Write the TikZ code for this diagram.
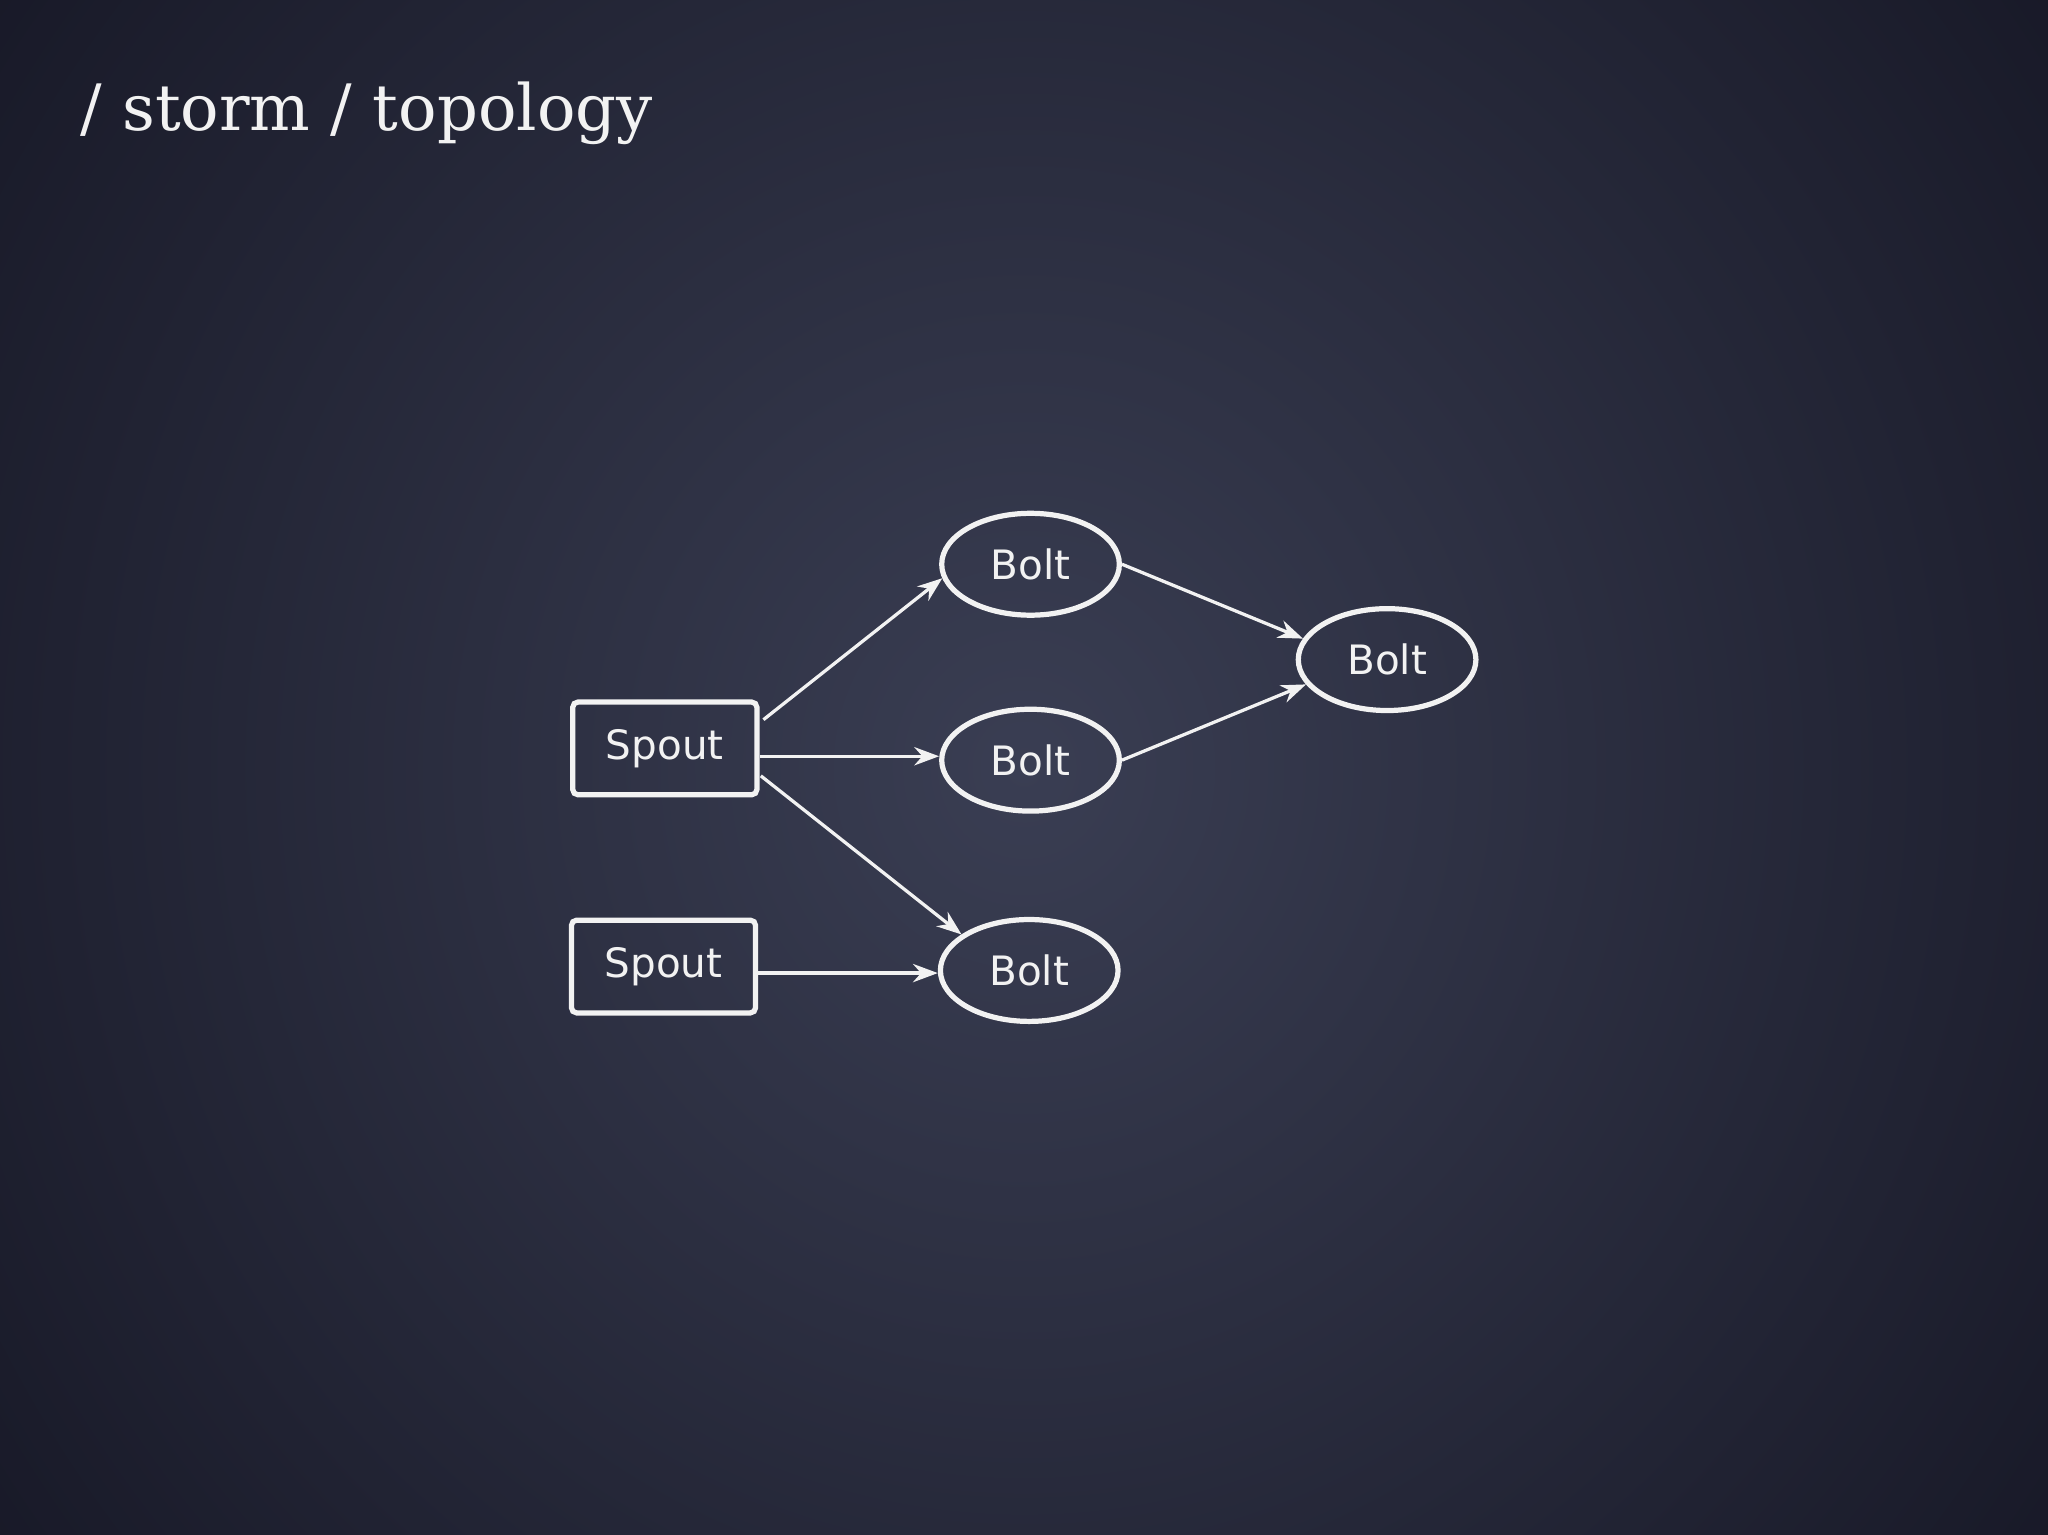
\documentclass[tikz,border=0pt]{standalone}
\usepackage{fontspec}
\setmainfont{DejaVu Sans}
\newfontfamily\titlefont{DejaVu Serif}
\usetikzlibrary{shapes.geometric,arrows.meta}
\definecolor{bgin}{HTML}{3A3E53}
\definecolor{bgout}{HTML}{161725}
\definecolor{fg}{HTML}{F2F2F2}
\begin{document}
\begin{tikzpicture}[x=1pt,y=-1pt,
  spoutbox/.style={draw=fg,line width=4,rounded corners=4,minimum width=141,minimum height=71,text=fg,font=\fontsize{31}{36}\selectfont},
  boltnode/.style={ellipse,draw=fg,line width=4,minimum width=136,minimum height=78,inner sep=0,text=fg,font=\fontsize{31}{36}\selectfont},
  flow/.style={draw=fg,line width=2.5,-{Stealth[length=19,width=14]}}]
\useasboundingbox (0,0) rectangle (1568,1175);
\shade[inner color=bgin,outer color=bgout] (-250,-500) rectangle (1818,1675);
\node[anchor=base west,text=fg,font=\titlefont\fontsize{49}{54}\selectfont] (title) at (58,100) {/ storm / topology};
\node[spoutbox] (s1) at (509,573) {Spout};
\node[spoutbox] (s2) at (508,740) {Spout};
\node[boltnode] (b1) at (789,432) {Bolt};
\node[boltnode] (b2) at (789,582) {Bolt};
\node[boltnode] (b3) at (788,743) {Bolt};
\node[boltnode] (b4) at (1062,505) {Bolt};
\draw[flow] ([yshift=22,xshift=3]s1.east) -- (b1.189);
\draw[flow] ([yshift=-6]s1.east) -- ([yshift=3]b2.west);
\draw[flow] ([yshift=-21,xshift=1]s1.east) -- (b3.152);
\draw[flow] ([yshift=-5]s2.east) -- ([yshift=-2]b3.west);
\draw[flow] (b1.east) -- (b4.166);
\draw[flow] (b2.east) -- (b4.197);
\end{tikzpicture}
\end{document}
